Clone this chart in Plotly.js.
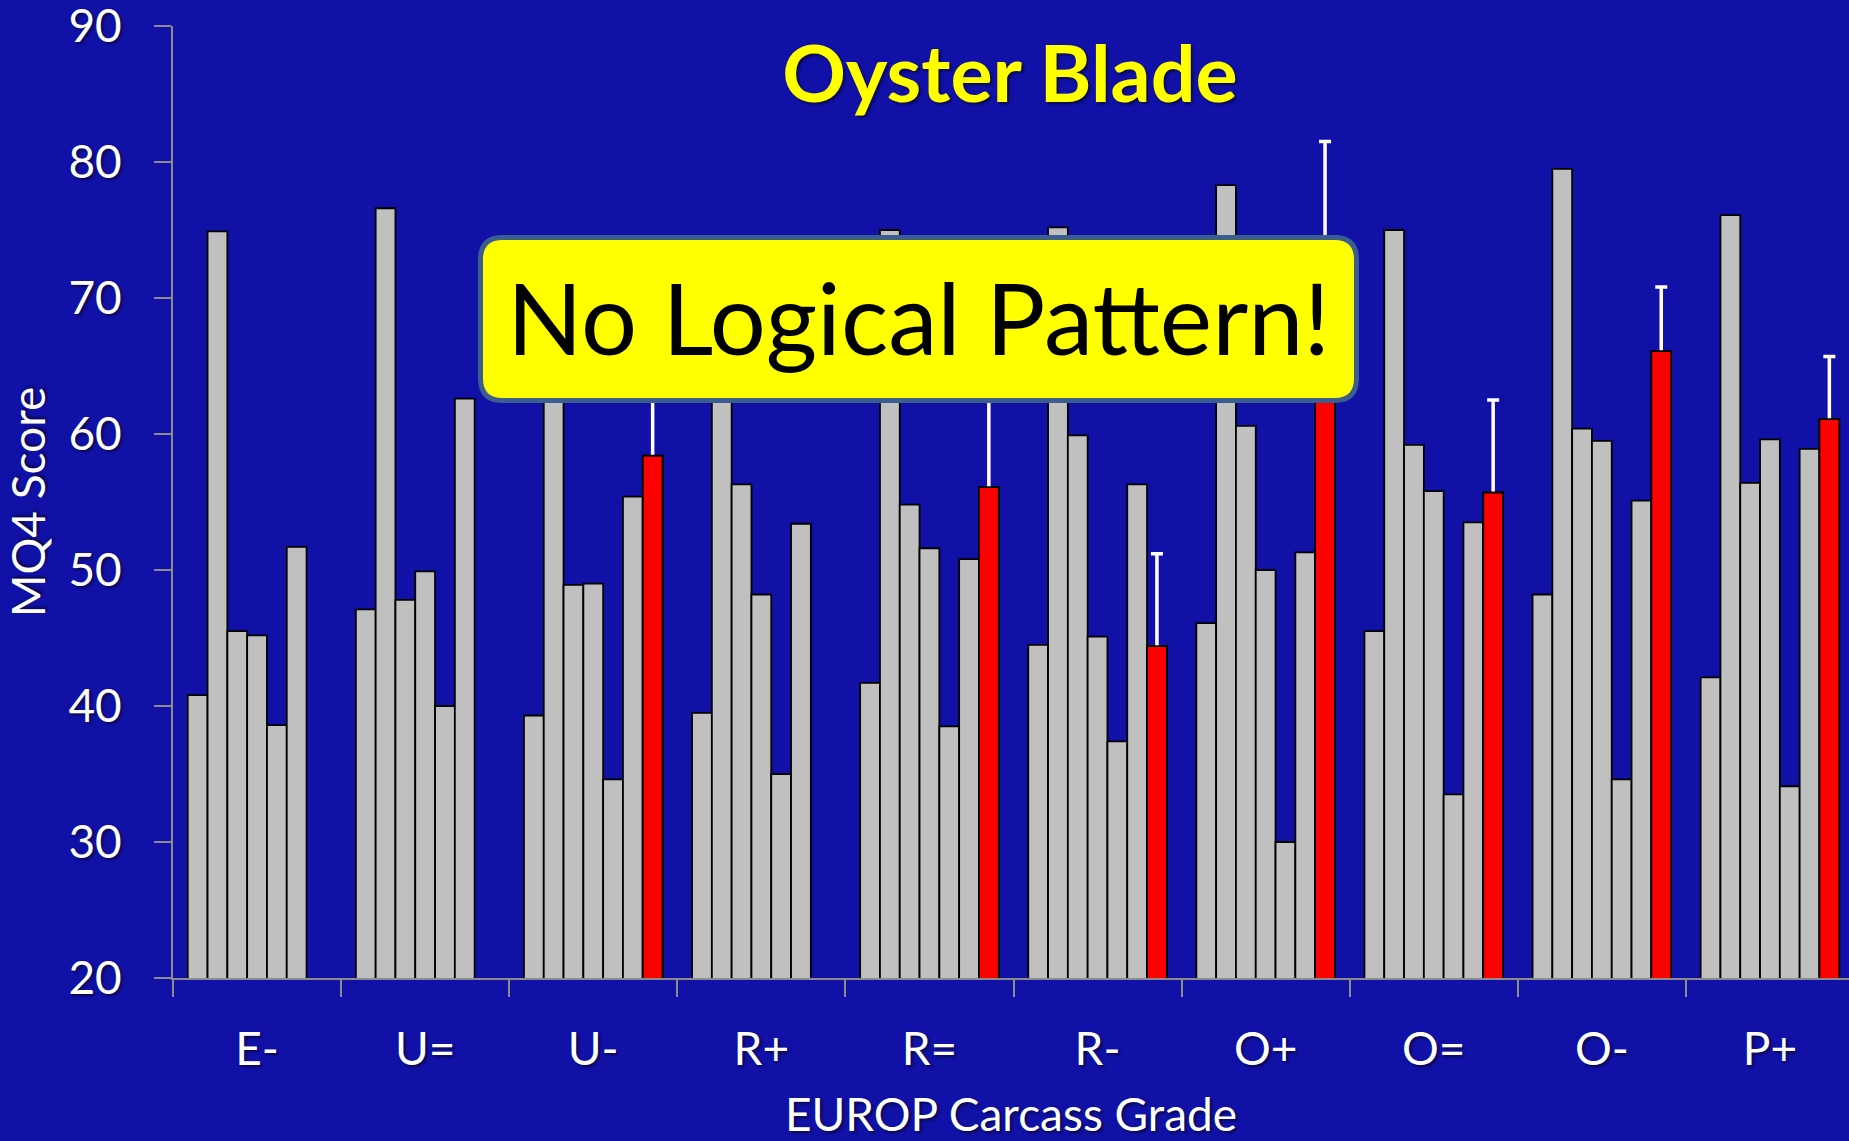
<!DOCTYPE html>
<html>
<head>
<meta charset="utf-8">
<script src="https://cdn.plot.ly/plotly-3.0.1.min.js"></script>
<style>
  html, body { margin: 0; padding: 0; background: #1111A8; }
  #chart { width: 1849px; height: 1141px; }
</style>
</head>
<body>
<div id="chart"></div>
<script>
// ---- data ----
var grades = ["E-", "U=", "U-", "R+", "R=", "R-", "O+", "O=", "O-", "P+"];
var series1 = [40.8, 47.1, 39.3, 39.5, 41.7, 44.5, 46.1, 45.5, 48.2, 42.1];
var series2 = [74.9, 76.6, 70.0, 67.0, 75.0, 75.2, 78.3, 75.0, 79.5, 76.1];
var series3 = [45.5, 47.8, 48.9, 56.3, 54.8, 59.9, 60.6, 59.2, 60.4, 56.4];
var series4 = [45.2, 49.9, 49.0, 48.2, 51.6, 45.1, 50.0, 55.8, 59.5, 59.6];
var series5 = [38.6, 40.0, 34.6, 35.0, 38.5, 37.4, 30.0, 33.5, 34.6, 34.1];
var series6 = [51.7, 62.6, 55.4, 53.4, 50.8, 56.3, 51.3, 53.5, 55.1, 58.9];
var redSeries = [null, null, 58.4, null, 56.1, 44.4, 70.0, 55.7, 66.1, 61.1];
var redError  = [null, null, 8.0, null, 8.0, 6.8, 11.5, 6.8, 4.7, 4.6];
var yTicks = [20, 30, 40, 50, 60, 70, 80, 90];

var FONT = "Lato, 'Open Sans', sans-serif";
var SHADOW = "2px 2px 3px rgba(0,0,0,0.55)";

var greyList = [series1, series2, series3, series4, series5, series6];
var traces = greyList.map(function (vals, i) {
  return {
    type: "bar", x: grades, y: vals, name: "s" + (i + 1), offsetgroup: "g" + (i + 1),
    marker: { color: "#C0C0C0", line: { color: "#000000", width: 1.8 } },
    hoverinfo: "x+y"
  };
});
// red bar with error bar (lower half hidden by overlay below)
traces.push({
  type: "bar", x: grades, y: redSeries, name: "red", offsetgroup: "g7",
  marker: { color: "#FF0000", line: { color: "#000000", width: 1.8 } },
  error_y: {
    type: "data", symmetric: true, array: redError,
    color: "#FFFFFF", thickness: 3.5, width: 6
  }
});
// same red bar drawn on top so only the upper whisker shows
traces.push({
  type: "bar", x: grades, y: redSeries, name: "red top", offsetgroup: "g7",
  marker: { color: "#FF0000", line: { color: "#000000", width: 1.8 } },
  hoverinfo: "skip"
});

// plot area in pixels
var W = 1849, H = 1141;
var L = 173, R = 0, T = 26, B = 163;
var pw = W - L - R, ph = H - T - B;
function px(x) { return (x - L) / pw; }
function py(y) { return (H - B - y) / ph; }

// rounded rectangle (pixel coords -> paper)
function roundRect(x0, y0, x1, y1, r) {
  function P(x, y) { return px(x).toFixed(5) + "," + py(y).toFixed(5); }
  return "M " + P(x0 + r, y0) +
    " L " + P(x1 - r, y0) +
    " Q " + P(x1, y0) + " " + P(x1, y0 + r) +
    " L " + P(x1, y1 - r) +
    " Q " + P(x1, y1) + " " + P(x1 - r, y1) +
    " L " + P(x0 + r, y1) +
    " Q " + P(x0, y1) + " " + P(x0, y1 - r) +
    " L " + P(x0, y0 + r) +
    " Q " + P(x0, y0) + " " + P(x0 + r, y0) + " Z";
}

var catWidth = 168.1;
var layout = {
  width: W, height: H,
  paper_bgcolor: "#1111A8",
  plot_bgcolor: "#1111A8",
  margin: { l: L, r: R, t: T, b: B, pad: 0 },
  showlegend: false,
  barmode: "group",
  bargap: 0.1755,
  bargroupgap: 0,
  title: {
    text: "<b>Oyster Blade</b>",
    font: { family: FONT, size: 79, color: "#FFFF00", shadow: SHADOW },
    x: px(1010), xref: "paper", xanchor: "center",
    y: 1 - 74 / H, yref: "container", yanchor: "middle"
  },
  xaxis: {
    type: "category",
    range: [-0.5, -0.5 + pw / catWidth],
    showline: true, linecolor: "#8C8C8C", linewidth: 2,
    ticks: "outside", tickson: "boundaries", ticklen: 17, tickcolor: "#8C8C8C", tickwidth: 2,
    tickfont: { family: FONT, size: 46, color: "#FFFFFF", shadow: SHADOW },
    ticklabelstandoff: 30,
    showgrid: false, zeroline: false, fixedrange: true,
    title: {
      text: "EUROP Carcass Grade",
      font: { family: FONT, size: 46, color: "#FFFFFF", shadow: SHADOW },
      standoff: 27
    }
  },
  yaxis: {
    range: [20, 90],
    tickvals: yTicks,
    showline: true, linecolor: "#8C8C8C", linewidth: 2,
    ticks: "outside", ticklen: 17, tickcolor: "#8C8C8C", tickwidth: 2,
    tickfont: { family: FONT, size: 46, color: "#FFFFFF", shadow: SHADOW },
    ticklabelstandoff: 23,
    ticklabeloverflow: "allow",
    showgrid: false, zeroline: false, fixedrange: true,
    title: {
      text: "MQ4 Score",
      font: { family: FONT, size: 46, color: "#FFFFFF", shadow: SHADOW },
      standoff: 17
    }
  },
  shapes: [{
    type: "path", xref: "paper", yref: "paper", layer: "above",
    path: roundRect(480.5, 237.5, 1356.5, 400.5, 22),
    fillcolor: "#FFFF00",
    line: { color: "#3C5E8E", width: 5 }
  }],
  annotations: [{
    xref: "paper", yref: "paper",
    x: px(918.5), y: py(316), xanchor: "center", yanchor: "middle",
    text: "No Logical Pattern!", showarrow: false,
    font: { family: FONT, size: 99, color: "#000000" }
  }]
};

Plotly.newPlot("chart", traces, layout, { displayModeBar: false, staticPlot: true });
</script>
</body>
</html>
